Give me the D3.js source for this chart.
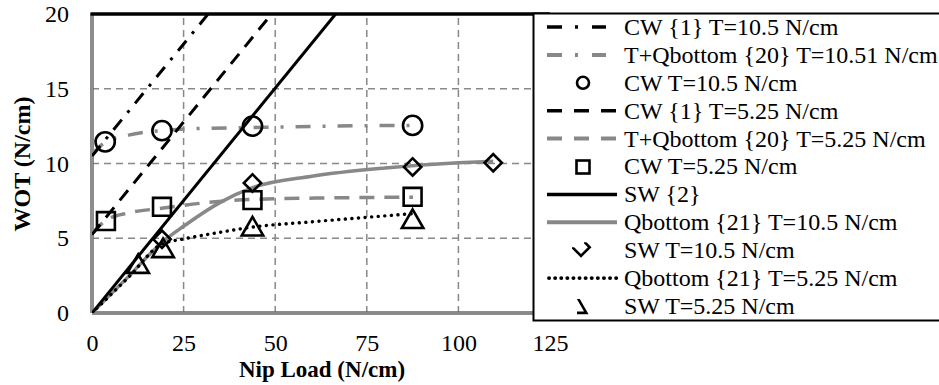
<!DOCTYPE html>
<meta charset="utf-8">
<script src="https://d3js.org/d3.v7.min.js"></script>
<style>
  body { margin: 0; background: #fff; }
</style>
<body>
<svg width="939" height="385"></svg>
<script>
// ---- data ----
var xTicks = [0, 25, 50, 75, 100, 125];
var yTicks = [0, 5, 10, 15, 20];

// straight models (drawn as lines from their end points)
var cw1_105 = [[0, 10.5], [31.7, 20]];
var cw1_525 = [[0, 5.25], [49, 20]];
var sw2 = [[0, 0], [66.5, 20]];

// curved models
var tq20_105 = [[0, 10.6], [3.5, 11.4], [10, 11.9], [19, 12.2], [30, 12.35], [44, 12.4], [65, 12.5], [87.6, 12.55]];
var tq20_525 = [[0, 5.3], [3.8, 6.2], [10, 6.7], [19, 7.0], [30, 7.35], [44, 7.6], [65, 7.7], [87.6, 7.75]];
var qb21_105 = [[0, 0], [10, 2.45], [19, 4.7], [25, 5.8], [35, 7.4], [44, 8.4], [60, 9.15], [80, 9.7], [100, 10.05], [109.5, 10.15]];
var qb21_525 = [[0, 0], [10, 2.4], [19, 4.6], [25, 4.95], [35, 5.4], [44, 5.75], [60, 6.1], [80, 6.5], [87.6, 6.65]];

// measurements
var cwT105 = [[3.6, 11.45], [19.1, 12.2], [43.8, 12.5], [87.5, 12.55]];
var cwT525 = [[3.8, 6.15], [19.1, 7.1], [43.8, 7.55], [87.5, 7.77]];
var swT105 = [[19.1, 4.93], [43.8, 8.7], [87.5, 9.77], [109.5, 10.05]];
var swT525 = [[12.6, 3.1], [19.4, 4.15], [43.8, 5.6], [87.5, 6.1]];

var legendLabels = [
  "CW {1} T=10.5 N/cm",
  "T+Qbottom {20} T=10.51 N/cm",
  "CW T=10.5 N/cm",
  "CW {1} T=5.25 N/cm",
  "T+Qbottom {20} T=5.25 N/cm",
  "CW T=5.25 N/cm",
  "SW {2}",
  "Qbottom {21} T=10.5 N/cm",
  "SW T=10.5 N/cm",
  "Qbottom {21} T=5.25 N/cm",
  "SW T=5.25 N/cm"
];

var grey = "#888";

var svg = d3.select("svg");
var x = d3.scaleLinear().domain([0, 125]).range([92, 550]);
var y = d3.scaleLinear().domain([0, 20]).range([313, 14]);

svg.append("clipPath").attr("id", "plot")
  .append("rect").attr("x", 92).attr("y", 14).attr("width", 458).attr("height", 299);

/* ---- grid ---- */
svg.append("g").selectAll("line.vg").data(xTicks.slice(1)).enter().append("line")
  .attr("x1", d => x(d)).attr("x2", d => x(d))
  .attr("y1", y(0)).attr("y2", y(20))
  .attr("stroke", grey).attr("stroke-width", 1.5).attr("stroke-dasharray", "7,5");
svg.append("g").selectAll("line.hg").data(yTicks.slice(1, -1)).enter().append("line")
  .attr("x1", x(0)).attr("x2", x(125))
  .attr("y1", d => y(d)).attr("y2", d => y(d))
  .attr("stroke", grey).attr("stroke-width", 1.5).attr("stroke-dasharray", "7,5");

/* ---- axes ---- */
function axisLine(x1, y1, x2, y2, col, w) {
  svg.append("line").attr("x1", x1).attr("y1", y1).attr("x2", x2).attr("y2", y2)
    .attr("stroke", col).attr("stroke-width", w);
}
axisLine(x(0), y(0), x(125), y(0), "#666", 3.5);
axisLine(x(0), y(0), x(125), y(0), "#aaa", 1.2);
axisLine(x(0), y(20) - 1, x(0), y(0), "#666", 3.5);
axisLine(x(0), y(20), x(0), y(0), "#aaa", 1.2);
axisLine(x(0) - 1.5, y(20), x(125), y(20), "#000", 3.5);

var xAxis = d3.axisBottom(x).tickValues(xTicks).tickSize(0).tickPadding(0);
var gx = svg.append("g").attr("transform", "translate(0," + (y(0) + 30) + ")").call(xAxis);
gx.select(".domain").remove();
gx.attr("font-family", null).attr("font-size", null);
gx.selectAll("text").attr("dy", "0.32em");

var yAxis = d3.axisLeft(y).tickValues(yTicks).tickSize(0).tickPadding(0);
var gy = svg.append("g").attr("transform", "translate(69,0)").call(yAxis);
gy.select(".domain").remove();
gy.attr("font-family", null).attr("font-size", null);
gy.selectAll("text").attr("dy", "0.32em");

/* ---- series ---- */
var plot = svg.append("g").attr("clip-path", "url(#plot)");
var straight = d3.line().x(d => x(d[0])).y(d => y(d[1]));
var smooth = d3.line().x(d => x(d[0])).y(d => y(d[1])).curve(d3.curveMonotoneX);

var lineStyles = {
  cw105: { col: "#000", dash: "13,9,3,9", w: 3 },
  tq105: { col: grey, dash: "15,12,3,12", w: 3.5 },
  cw525: { col: "#000", dash: "13,9", w: 3 },
  tq525: { col: grey, dash: "15,10", w: 3.5 },
  sw2: { col: "#000", dash: null, w: 3 },
  qb105: { col: grey, dash: null, w: 3.5 },
  qb525: { col: "#000", dash: "0.1,6.5", w: 3.4, cap: "round" }
};

function drawLine(data, gen, st) {
  plot.append("path").datum(data).attr("d", gen)
    .attr("fill", "none").attr("stroke", st.col).attr("stroke-width", st.w)
    .attr("stroke-dasharray", st.dash).attr("stroke-linecap", st.cap || "butt");
}
drawLine(tq20_105, smooth, lineStyles.tq105);
drawLine(tq20_525, smooth, lineStyles.tq525);
drawLine(qb21_105, smooth, lineStyles.qb105);
drawLine(qb21_525, smooth, lineStyles.qb525);
drawLine(cw1_105, straight, lineStyles.cw105);
drawLine(cw1_525, straight, lineStyles.cw525);
drawLine(sw2, straight, lineStyles.sw2);

var sym = {
  circle: d3.symbol().type(d3.symbolCircle).size(290),
  square: d3.symbol().type(d3.symbolSquare).size(320),
  diamond: d3.symbol().type(d3.symbolSquare).size(150),
  triangle: d3.symbol().type(d3.symbolTriangle).size(200),
  legendTri: d3.symbol().type(d3.symbolTriangle).size(150)
};
function drawMarks(data, shape, rot) {
  svg.append("g").selectAll("path").data(data).enter().append("path")
    .attr("d", sym[shape])
    .attr("transform", d => "translate(" + x(d[0]) + "," + y(d[1]) + ")" + (rot ? " rotate(45)" : ""))
    .attr("fill", "none").attr("stroke", "#000").attr("stroke-width", 2.6);
}
drawMarks(cwT105, "circle");
drawMarks(cwT525, "square");
drawMarks(swT105, "diamond", true);
drawMarks(swT525, "triangle");

/* ---- legend ---- */
var lg = svg.append("g");
lg.append("rect").attr("x", 533.5).attr("y", 13.5).attr("width", 410).attr("height", 307)
  .attr("fill", "#fff").attr("stroke", "#000").attr("stroke-width", 2);

var legendKinds = [
  { line: "cw105" }, { line: "tq105" }, { mark: "circle" }, { line: "cw525" }, { line: "tq525" },
  { mark: "square" }, { line: "sw2" }, { line: "qb105" }, { mark: "diamond" }, { line: "qb525" }, { mark: "triangle" }
];
var rowY = d3.scaleLinear().domain([0, 10]).range([27, 306]);

legendKinds.forEach(function(k, i) {
  var cy = rowY(i);
  if (k.line) {
    var st = lineStyles[k.line];
    var legendDash = { cw105: "15,13,3,14", tq105: "15,13,3,14", cw525: "15,12", tq525: "15,12", qb525: "0.1,6" }[k.line] || null;
    lg.append("line").attr("x1", k.line === "qb525" ? 549 : 547).attr("x2", k.line === "cw105" || k.line === "tq105" ? 606 : 617)
      .attr("y1", cy).attr("y2", cy)
      .attr("stroke", st.col).attr("stroke-width", st.w + 0.5).attr("stroke-dasharray", legendDash)
      .attr("stroke-linecap", st.cap || "butt");
  } else if (k.mark === "circle") {
    lg.append("circle").attr("cx", 583).attr("cy", cy).attr("r", 6)
      .attr("fill", "none").attr("stroke", "#000").attr("stroke-width", 2.6);
  } else if (k.mark === "square") {
    lg.append("rect").attr("x", 576.5).attr("y", cy - 6).attr("width", 13).attr("height", 13)
      .attr("fill", "none").attr("stroke", "#000").attr("stroke-width", 2.6);
  } else if (k.mark === "diamond") {
    // the legend swatch is only partly drawn in the reference
    var cd = lg.append("clipPath").attr("id", "cd");
    cd.append("rect").attr("x", 572).attr("y", cy - 3).attr("width", 22).attr("height", 16);
    cd.append("rect").attr("x", 584).attr("y", cy - 8).attr("width", 10).attr("height", 6);
    lg.append("g").attr("clip-path", "url(#cd)").append("path").attr("d", sym.diamond)
      .attr("transform", "translate(581," + (cy - 3) + ") rotate(45)")
      .attr("fill", "none").attr("stroke", "#000").attr("stroke-width", 2.6);
  } else if (k.mark === "triangle") {
    lg.append("clipPath").attr("id", "ct").append("rect")
      .attr("x", 577).attr("y", cy - 7).attr("width", 20).attr("height", 20);
    lg.append("g").attr("clip-path", "url(#ct)").append("path").attr("d", sym.legendTri)
      .attr("transform", "translate(577," + (cy + 1.5) + ")")
      .attr("fill", "none").attr("stroke", "#000").attr("stroke-width", 2.6);
  }
  lg.append("text").attr("x", 624).attr("y", cy).attr("dy", "0.33em").text(legendLabels[i]);
});

// Times-like serif text everywhere
svg.selectAll("text").style("font-family", "'Liberation Serif'").style("font-size", "24px").style("fill", "#000");

// axis titles
svg.append("text").attr("x", 322).attr("y", 370).attr("dy", "0.32em").attr("text-anchor", "middle")
  .style("font-family", "'Liberation Serif'").style("font-size", "23px").style("font-weight", "bold")
  .text("Nip Load (N/cm)");
svg.append("text").attr("transform", "translate(22,164) rotate(-90)").attr("dy", "0.32em").attr("text-anchor", "middle")
  .style("font-family", "'Liberation Serif'").style("font-size", "24px").style("font-weight", "bold")
  .text("WOT (N/cm)");
</script>
